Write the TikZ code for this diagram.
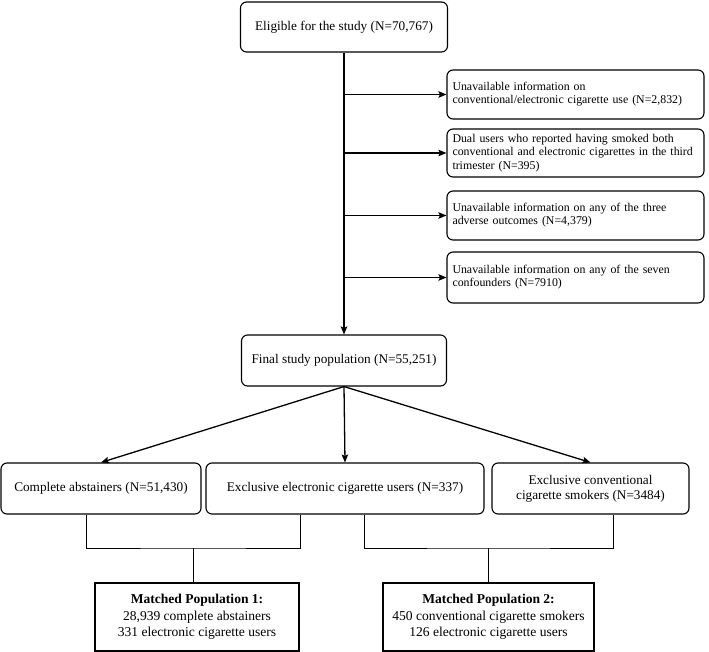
\documentclass[tikz,border=0pt]{standalone}
\usepackage{fontspec}
\setmainfont{Liberation Serif}
\usetikzlibrary{arrows.meta}

\begin{document}
\begin{tikzpicture}[x=1bp, y=-1bp, line width=1.1bp, >={Stealth[length=8bp, width=6.5bp, inset=1.5bp]},
  rbox/.style={draw, rounded corners=6bp, inner sep=0pt, align=center,
    font=\fontsize{13.3}{15}\selectfont},
  sidebox/.style={rbox, minimum width=257bp, minimum height=49bp, text width=246bp,
    align=left, font=\fontsize{11.9}{13.2}\selectfont},
  mbox/.style={draw, line width=1.4bp, inner sep=0pt, minimum height=68bp, align=center,
    font=\fontsize{13.6}{16.5}\selectfont},
  flow/.style={->, line width=1.3bp},
  joint/.style={line width=0.8bp}]
\useasboundingbox (0,0) rectangle (709,652);
% top and final
\node[rbox, minimum width=207bp, minimum height=50bp] (elig) at (344,27) {Eligible for the study (N=70,767)};
\node[rbox, minimum width=205bp, minimum height=51bp] (final) at (344,360.5) {Final study population (N=55,251)};
% exclusions
\node[sidebox] (ex1) at (575.5,94.5) {Unavailable information on\\conventional/electronic cigarette use (N=2,832)};
\node[sidebox, minimum height=48bp] (ex2) at (575.5,153) {Dual users who reported having smoked both\\conventional and electronic cigarettes in the third\\trimester (N=395)};
\node[sidebox] (ex3) at (575.5,215.5) {Unavailable information on any of the three\\adverse outcomes (N=4,379)};
\node[sidebox, minimum height=51bp] (ex4) at (575.5,277.5) {Unavailable information on any of the seven\\confounders (N=7910)};
\draw[flow, line width=1.5bp] (elig) -- (final);
\foreach \n in {ex1,ex2,ex3,ex4}
  \draw[flow] (elig.south |- \n.west) -- (\n.west);
% groups
\node[rbox, minimum width=200bp, minimum height=51bp] (abst) at (101,488.5) {Complete abstainers (N=51,430)};
\node[rbox, minimum width=278bp, minimum height=51bp] (ecig) at (345,488.5) {Exclusive electronic cigarette users (N=337)};
\node[rbox, minimum width=197bp, minimum height=51bp] (conv) at (590.5,488.5) {Exclusive conventional\\cigarette smokers (N=3484)};
\foreach \n in {abst,ecig,conv}
  \draw[flow] (final.south) -- (\n.north);
% matched populations
\node[mbox, minimum width=204bp] (mp1) at (197,617) {\textbf{Matched Population 1:}\\28,939 complete abstainers\\331 electronic cigarette users};
\node[mbox, minimum width=211bp] (mp2) at (488.5,617) {\textbf{Matched Population 2:}\\450 conventional cigarette smokers\\126 electronic cigarette users};
\coordinate (b1) at (193,548);
\coordinate (b2) at (488.5,548);
\draw[joint] ([xshift=-15bp]abst.south) |- (b1) -| ([xshift=-45bp]ecig.south);
\draw[joint] ([xshift=19bp]ecig.south) |- (b2) -| ([xshift=22.5bp]conv.south);
\draw[joint] (b1) -- (b1 |- mp1.north);
\draw[joint] (b2) -- (mp2.north);
\end{tikzpicture}
\end{document}
